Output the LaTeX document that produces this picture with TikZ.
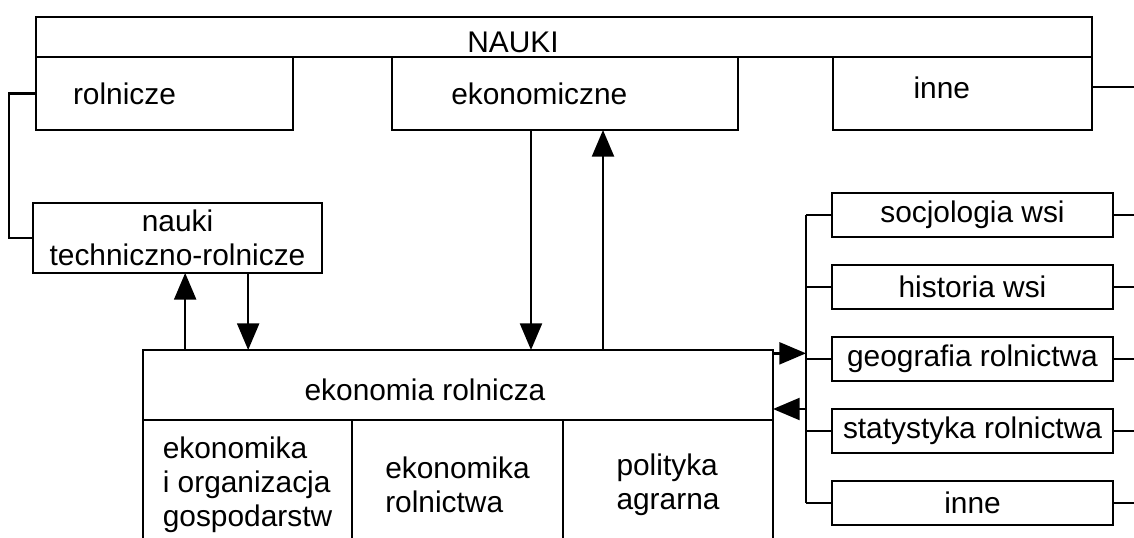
\documentclass[tikz,border=0pt]{standalone}
\usepackage{fontspec}
\setmainfont{Liberation Sans}
\usetikzlibrary{positioning,arrows.meta,calc}

\begin{document}
\begin{tikzpicture}[x=0.03cm, y=-0.03cm, line width=2pt,
    font=\fontsize{25.5pt}{29pt}\selectfont,
    >={Triangle[length=0.8cm,width=0.66cm]}]
    \tikzstyle{box} = [rectangle, draw, inner sep=0pt, outer sep=0pt, align=center]
    \tikzstyle{subbox} = [box, minimum height=3.9cm, align=left]
    \tikzstyle{side} = [box, minimum width=8.43cm, minimum height=1.32cm]

    \useasboundingbox (0,0) rectangle (1134,538);
    \clip (0,0) rectangle (1134,538);
    \fill[white] (0,0) rectangle (1134,538);

    % NAUKI i trzy grupy nauk
    \node [box, minimum width=31.68cm, minimum height=1.2cm, label={[xshift=-1.53cm, yshift=-0.16cm]center:NAUKI}] (nauki) at (564,37) {};
    \node [box, minimum width=7.71cm, minimum height=2.19cm, label={[xshift=-1.2cm]center:rolnicze}] (rolnicze) at (164.5,93.5) {};
    \node [box, minimum width=10.38cm, minimum height=2.19cm, label={[xshift=-0.77cm]center:ekonomiczne}] (ekonomiczne) at (565,93.5) {};
    \node [box, minimum width=7.77cm, minimum height=2.19cm, label={[xshift=-0.62cm, yshift=0.16cm]center:inne}] (inne) at (962.5,93.5) {};

    \node [box, minimum width=8.67cm, minimum height=2.1cm] (techrol) at (177.5,238) {nauki\\techniczno-rolnicze};

    % ekonomia rolnicza
    \node [box, minimum width=18.9cm, minimum height=2.1cm, label={[xshift=-0.99cm, yshift=-0.15cm]center:ekonomia rolnicza}] (ekrol) at (458,385) {};
    \node [subbox, minimum width=6.27cm, anchor=north west] (gosp) at (ekrol.south west) {ekonomika\\i organizacja\\gospodarstw};
    \node [subbox, minimum width=6.33cm, right=0pt of gosp] (rolnictwa) {ekonomika\\rolnictwa};
    \node [subbox, minimum width=6.3cm, right=0pt of rolnictwa] (agrarna) {polityka\\agrarna};

    % nauki pokrewne
    \node [side] (socjologia) at (972.5,215) {socjologia wsi};
    \node [side, below=0.84cm of socjologia] (historia) {historia wsi};
    \node [side, below=0.84cm of historia] (geografia) {geografia rolnictwa};
    \node [side, below=0.84cm of geografia] (statystyka) {statystyka rolnictwa};
    \node [side, below=0.84cm of statystyka] (pozostale) {inne};

    \coordinate (lbus) at (9,0);
    \coordinate (rbus) at (806,0);
    \coordinate (edge) at (1134,0);

    \draw (rolnicze.west) -- (rolnicze.west -| lbus) |- (techrol.west);
    \draw ([yshift=0.2cm]inne.east) -- ([yshift=0.2cm]inne.east -| edge);

    \draw [->] ([xshift=0.23cm]techrol.south |- ekrol.north) -- ([xshift=0.23cm]techrol.south);
    \draw [->] ([xshift=2.12cm]techrol.south) -- ([xshift=2.12cm]techrol.south |- ekrol.north);
    \draw [->] ([xshift=-1.02cm]ekonomiczne.south) -- ([xshift=-1.02cm]ekonomiczne.south |- ekrol.north);
    \draw [->] ([xshift=1.14cm]ekonomiczne.south |- ekrol.north) -- ([xshift=1.14cm]ekonomiczne.south);

    \draw (socjologia.west -| rbus) -- (pozostale.west -| rbus);
    \foreach \n in {socjologia,historia,geografia,statystyka,pozostale} {
        \draw (\n.west -| rbus) -- (\n.west);
        \draw (\n.east) -- (\n.east -| edge);
    }
    \draw [->] ([yshift=-0.1cm]ekrol.north east) -- ([yshift=-0.1cm]ekrol.north east -| rbus);
    \draw [->] ([yshift=0.33cm]ekrol.south east -| rbus) -- ([yshift=0.33cm]ekrol.south east);
\end{tikzpicture}
\end{document}
